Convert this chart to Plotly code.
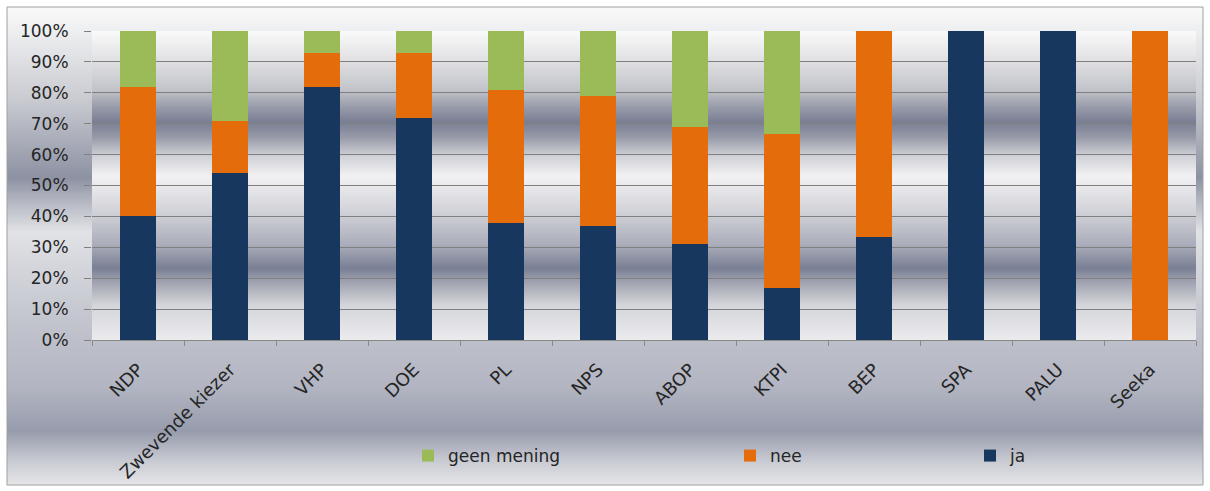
import base64, struct, zlib
import numpy as np
import plotly.graph_objects as go

# ---------------- data ----------------
categories = ["NDP", "Zwevende kiezer", "VHP", "DOE", "PL", "NPS", "ABOP", "KTPI", "BEP", "SPA", "PALU", "Seeka"]
ja = [40, 54, 82, 72, 38, 37, 31, 16.7, 33.3, 100, 100, 0]
nee = [42, 17, 11, 21, 43, 42, 38, 50, 66.7, 0, 0, 100]
geen_mening = [18, 29, 7, 7, 19, 21, 31, 33.3, 0, 0, 0, 0]
y_ticks = [0, 10, 20, 30, 40, 50, 60, 70, 80, 90, 100]
y_ticklabels = ["0%", "10%", "20%", "30%", "40%", "50%", "60%", "70%", "80%", "90%", "100%"]

# ---------------- layout geometry ----------------
W, H = 1210, 491
ML, MR, MT, MB = 92, 14, 31, 151
PW, PH = W - ML - MR, H - MT - MB


def py2paper(py):
    return (H - MB - py) / PH


def px2paper(px):
    return (px - ML) / PW


def png_uri(arr):
    arr = np.ascontiguousarray(arr.astype(np.uint8))
    h, w, _ = arr.shape
    raw = b"".join(b"\x00" + arr[i].tobytes() for i in range(h))

    def chunk(tag, data):
        c = tag + data
        return struct.pack(">I", len(data)) + c + struct.pack(">I", zlib.crc32(c) & 0xFFFFFFFF)

    png = b"\x89PNG\r\n\x1a\n" + chunk(b"IHDR", struct.pack(">IIBBBBB", w, h, 8, 2, 0, 0, 0))
    png += chunk(b"IDAT", zlib.compress(raw, 9)) + chunk(b"IEND", b"")
    return "data:image/png;base64," + base64.b64encode(png).decode()


def gradient(y0, y1, stops):
    ys = np.arange(y0, y1) + 0.5
    sy = np.array([s[0] for s in stops], float)
    cols = np.array([s[1] for s in stops], float)
    out = np.zeros((len(ys), 4, 3))
    for k in range(3):
        out[:, :, k] = np.interp(ys, sy, cols[:, k])[:, None]
    return out


# background styling (pixel y, colour)
outer_stops = [
    (7, (250, 250, 250)), (35, (236, 237, 239)), (100, (202, 204, 210)),
    (178, (142, 147, 164)), (200, (178, 181, 192)), (232, (226, 227, 231)),
    (265, (214, 215, 221)), (330, (192, 195, 204)), (385, (180, 183, 195)),
    (432, (152, 157, 174)), (462, (202, 204, 212)), (485, (230, 230, 233)),
]
plot_stops = [
    (31, (250, 250, 250)), (55, (230, 230, 232)), (90, (194, 196, 202)),
    (108, (150, 154, 168)), (122, (122, 127, 148)), (137, (150, 154, 168)),
    (155, (206, 207, 213)), (176, (242, 242, 244)), (190, (230, 230, 234)),
    (215, (206, 207, 213)), (245, (170, 173, 186)), (268, (122, 127, 148)),
    (283, (162, 165, 178)), (305, (212, 213, 218)), (340, (236, 236, 239)),
]
outer_img = png_uri(gradient(7, 486, outer_stops))
plot_img = png_uri(gradient(31, 340, plot_stops))

fig = go.Figure()

bar_cfg = [
    ("ja", ja, "#17375E", "legend3"),
    ("nee", nee, "#E46C0A", "legend2"),
    ("geen mening", geen_mening, "#9BBB59", "legend"),
]
for name, vals, col, lg in bar_cfg:
    fig.add_trace(go.Bar(
        x=categories, y=vals, name=name, marker=dict(color=col, line=dict(width=0)),
        legend=lg, showlegend=True,
    ))

font_main = "'DejaVu Sans', Verdana, sans-serif"
txt_col = "#252525"
leg_common = dict(orientation="h", xanchor="left", yanchor="middle", bgcolor="rgba(0,0,0,0)",
                  font=dict(family=font_main, size=17, color=txt_col), itemwidth=30,
                  borderwidth=0, visible=True)
leg_y = py2paper(456)

fig.update_layout(
    width=W, height=H,
    margin=dict(l=ML, r=MR, t=MT, b=MB, autoexpand=False),
    barmode="stack", bargap=0.6,
    showlegend=True,
    paper_bgcolor="white", plot_bgcolor="rgba(0,0,0,0)",
    font=dict(family=font_main, color=txt_col),
    legend=dict(x=px2paper(408), y=leg_y, **leg_common),
    legend2=dict(x=px2paper(730), y=leg_y, **leg_common),
    legend3=dict(x=px2paper(970), y=leg_y, **leg_common),
    images=[
        dict(source=outer_img, xref="paper", yref="paper", x=px2paper(7), y=py2paper(7),
             sizex=(1203 - 7) / PW, sizey=(485 - 7) / PH, sizing="stretch", layer="below",
             xanchor="left", yanchor="top"),
        dict(source=plot_img, xref="paper", yref="paper", x=0, y=1, sizex=1, sizey=1,
             sizing="stretch", layer="below", xanchor="left", yanchor="top"),
    ],
    shapes=[
        dict(type="rect", xref="paper", yref="paper", x0=px2paper(7), x1=px2paper(1203),
             y0=py2paper(485), y1=py2paper(7), line=dict(color="#A0A0A0", width=1),
             fillcolor="rgba(0,0,0,0)", layer="below"),
    ],
)

fig.update_xaxes(
    type="category", showgrid=False, showline=True, linecolor="#888888", linewidth=1,
    ticks="outside", tickson="boundaries", ticklen=5, tickcolor="#888888",
    tickangle=-45, ticklabelstandoff=11, automargin=False,
    tickfont=dict(family=font_main, size=18, color=txt_col),
)
fig.update_yaxes(
    range=[0, 100], tickvals=y_ticks, ticktext=y_ticklabels,
    showgrid=True, gridcolor="#808080", gridwidth=1,
    showline=False, zeroline=False, automargin=False,
    ticks="outside", ticklen=7, tickcolor="#808080", ticklabelstandoff=12,
    tickfont=dict(family=font_main, size=17, color=txt_col),
)

fig.write_html(
    "out.html",
    config={"displayModeBar": False},
    post_script="document.body.style.margin='0';document.body.style.overflow='hidden';",
)
